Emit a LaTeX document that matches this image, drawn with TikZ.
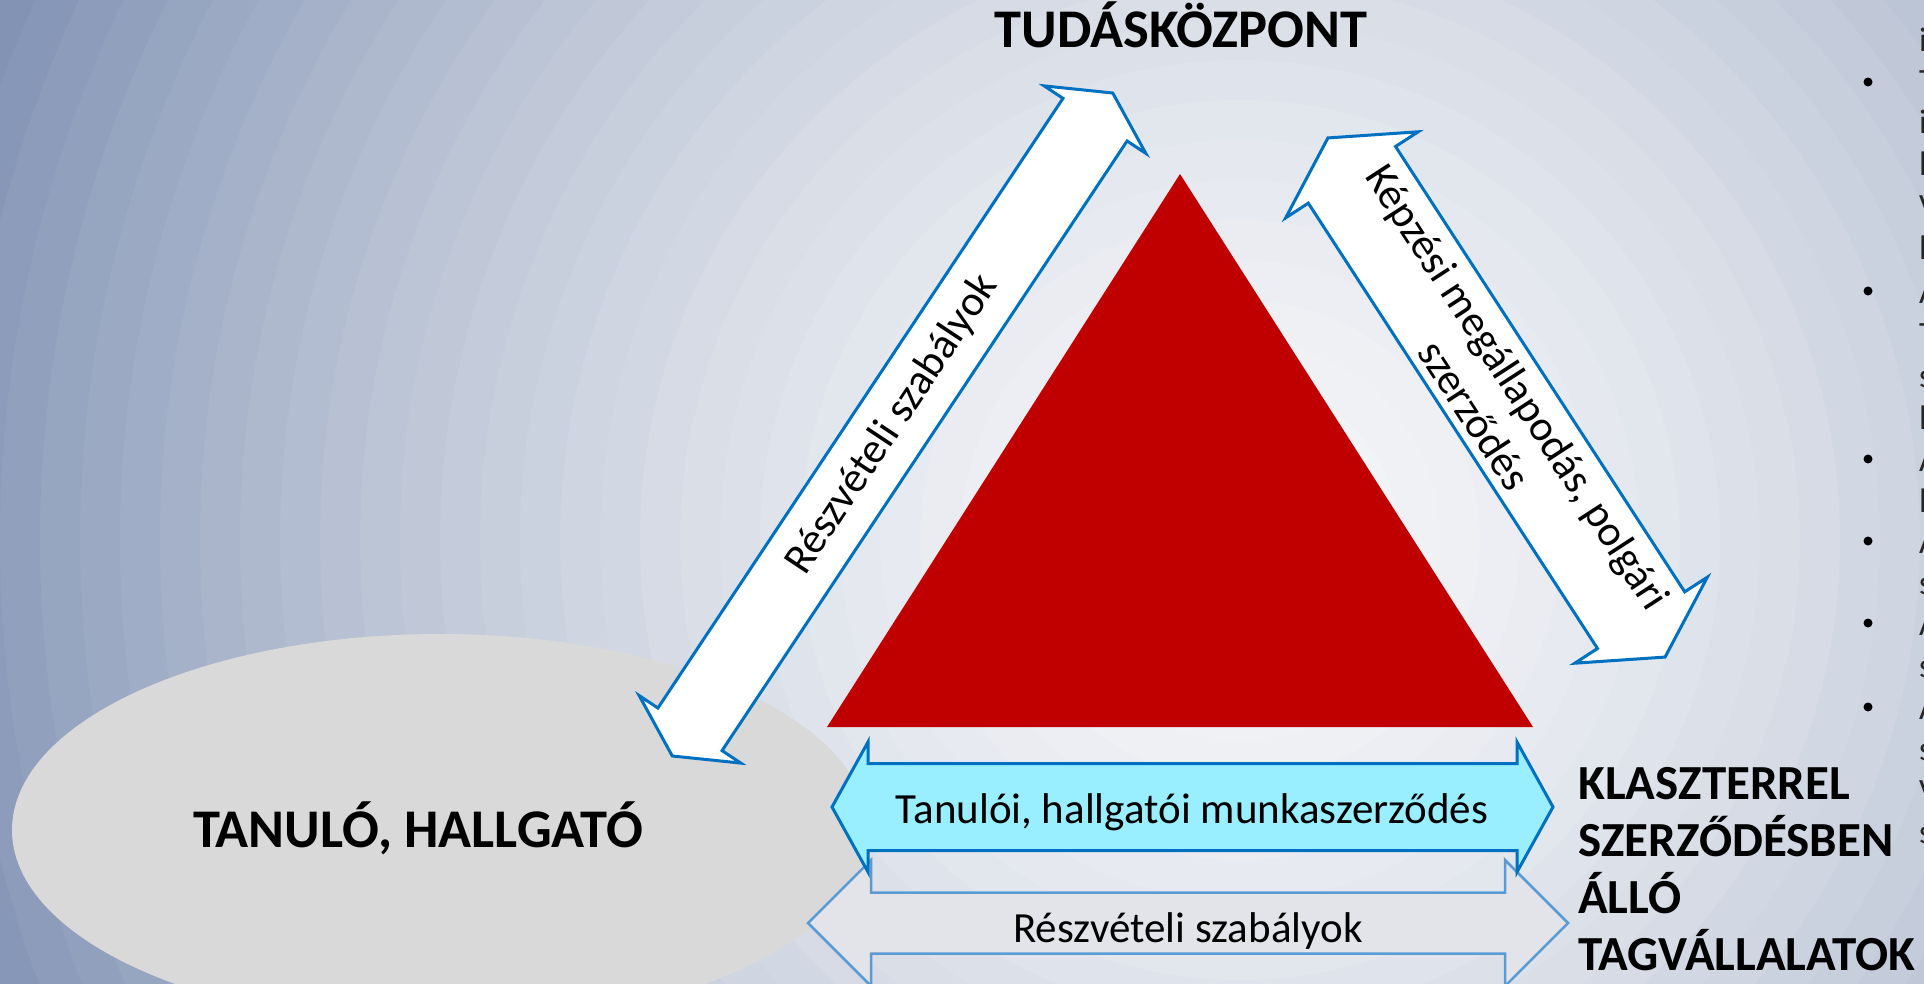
\documentclass[tikz,border=0pt]{standalone}
\usepackage{fontspec}
\setmainfont{Carlito}

\definecolor{bgin}{RGB}{245,246,248}
\definecolor{bgout}{RGB}{124,142,176}
\definecolor{hubred}{RGB}{192,0,0}
\definecolor{arrowblue}{RGB}{0,112,192}
\definecolor{paleblue}{RGB}{91,155,213}
\definecolor{cyanfill}{RGB}{153,238,255}
\definecolor{ellgray}{RGB}{217,217,217}

% block double arrow: centre, angle, length, shaft half width, head half width, head length, style
\newcommand\blockarrow[7]{%
  \begin{scope}[shift={#1},rotate=#2]
    \draw[#7] ({-#3/2},0) -- ({-#3/2+#6},#5) -- ({-#3/2+#6},#4) -- ({#3/2-#6},#4)
      -- ({#3/2-#6},#5) -- ({#3/2},0) -- ({#3/2-#6},-#5) -- ({#3/2-#6},-#4)
      -- ({-#3/2+#6},-#4) -- ({-#3/2+#6},-#5) -- cycle;
  \end{scope}}

\begin{document}
\begin{tikzpicture}[x=1pt, y=-1pt,
            arrow text/.style={font=\fontsize{43}{52}\selectfont, inner sep=0pt},
            heavy text/.style={font=\bfseries\fontsize{54.5}{64}\selectfont, inner sep=0pt},
            firm text/.style={font=\bfseries\fontsize{49}{57}\selectfont, inner sep=0pt},
            edge text/.style={font=\fontsize{34}{41}\selectfont, text=black!85, inner sep=0pt},
            main arrow/.style={draw=arrowblue, line width=3pt, fill=white},
            pale arrow/.style={draw=paleblue, line width=2.5pt, fill={rgb,255:red,226;green,228;blue,234}}]

        % background rings
        \useasboundingbox (0,0) rectangle (1924,984);
        \begin{scope}
            \clip (0,0) rectangle (1924,984);
            \foreach \r in {1440,1400,...,40} {
                \pgfmathsetmacro\mixp{min(100,100*(\r/1400)^1.6)}
                \fill[bgout!\mixp!bgin] (1240,540) circle (\r);
            }
        \end{scope}

        % student ellipse
        \fill[ellgray] (440,830) ellipse [x radius=428, y radius=196];
        \node[heavy text, anchor=base] (student) at (418,847) {TANULÓ, HALLGATÓ};

        % centre triangle
        \fill[hubred] (1180,174) -- (827,727) -- (1533,727) -- cycle;
        \node[heavy text, anchor=base] (hub) at (1181,48) {TUDÁSKÖZPONT};

        % diagonal arrows
        \blockarrow{(892.5,424.5)}{56.4}{796}{38.5}{61}{32}{main arrow}
        \node[arrow text, rotate=56.4] (rulesdiag) at (892.5,424.5) {Részvételi szabályok};

        \blockarrow{(1496.5,397.5)}{-57}{619}{52}{79}{44}{main arrow}
        \node[arrow text, rotate=-57, align=center] (training) at (1496.5,401) {Képzési megállapodás, polgári\\szerződés};

        % bottom arrows
        \blockarrow{(1188,923)}{0}{760}{30.5}{63}{63}{pale arrow}
        \node[arrow text] (ruleslow) at (1188,931) {Részvételi szabályok};

        \blockarrow{(1192.5,807)}{0}{721}{43.5}{65}{36}{main arrow, fill=cyanfill}
        \node[arrow text, anchor=base] (worklabel) at (1192,823) {Tanulói, hallgatói munkaszerződés};

        % member companies
        \node[firm text, align=left, anchor=north west] (firms) at (1578,767)
            {KLASZTERREL\\SZERZŐDÉSBEN\\ÁLLÓ\\TAGVÁLLALATOK};

        % cut-off bullet list at the right edge
        \foreach \by in {82,291,459,541,623,707}
            \fill (1868,\by) circle (4.5);
        \foreach \ly/\ch in {40/i,81/T,122/i,164/l,206/V,248/l,291/A,333/T,375/s,417/l,
                             459/A,500/l,541/A,582/s,623/A,665/s,707/A,748/s,790/V,831/s}
            \node[edge text, anchor=base west] at (1919,\ly+12) {\ch};
\end{tikzpicture}
\end{document}
